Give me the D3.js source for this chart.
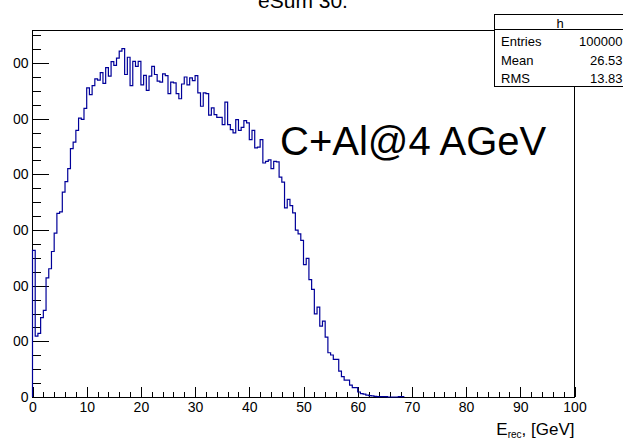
<!DOCTYPE html>
<html>
<head>
<meta charset="utf-8">
<script src="https://cdn.jsdelivr.net/npm/d3@7"></script>
<style>
  body { margin: 0; background: #fff; }
  svg { display: block; }
  text { font-family: "Liberation Sans", Arial, Helvetica, sans-serif; }
</style>
</head>
<body>
<svg id="chart" width="623" height="439"></svg>
<script>
// histogram "h" : 200 bins from 0 to 100 GeV, counts
const histName = "h";
const titleText = "eSum 30.";
const noteText = "C+Al@4 AGeV";
const xLimits = [0, 100];
const binWidth = 0.5;
const nBins = 200;
// bins 0..136, the rest are empty
const counts = [
  527, 219, 229, 285, 311, 428, 461, 523, 589, 660,
  665, 736, 774, 821, 893, 916, 958, 1002, 998, 1037,
  1111, 1087, 1119, 1143, 1139, 1166, 1127, 1184, 1153, 1205,
  1192, 1218, 1243, 1252, 1159, 1221, 1119, 1206, 1188, 1206,
  1122, 1156, 1102, 1153, 1188, 1159, 1135, 1132, 1161, 1155,
  1090, 1132, 1129, 1090, 1072, 1125, 1150, 1122, 1147, 1137,
  1155, 1093, 1045, 1093, 1090, 1013, 1039, 1015, 1005, 1005,
  979, 1060, 979, 961, 949, 997, 958, 969, 993, 985,
  925, 958, 895, 898, 925, 841, 847, 852, 821, 847,
  845, 790, 772, 680, 710, 688, 662, 600, 586, 563,
  476, 498, 422, 387, 299, 323, 255, 273, 215, 159,
  151, 135, 135, 93, 73, 61, 61, 43, 34, 34,
  18, 12, 10, 7, 5, 4, 2, 1, 1, 1,
  1, 0, 0, 0, 0, 1, 1
];
const yMaxShown = 1319;
const xTicks = [0, 10, 20, 30, 40, 50, 60, 70, 80, 90, 100];
const yTicks = [0, 200, 400, 600, 800, 1000, 1200];
const statLabels = ["Entries", "Mean", "RMS"];
const statValues = ["100000", "26.53", "13.83"];

const svg = d3.select("#chart");
const frame = { left: 32.5, right: 574.5, top: 30, bottom: 397 };

const x = d3.scaleLinear().domain(xLimits).range([frame.left, frame.right]);
const y = d3.scaleLinear().domain([0, yMaxShown]).range([frame.bottom, frame.top]);

// the pad starts a little right of the picture edge: labels get cut there
svg.append("clipPath").attr("id", "padClip")
  .append("rect").attr("x", 13.2).attr("y", 0).attr("width", 620).attr("height", 439);

// frame
svg.append("rect")
  .attr("x", frame.left).attr("y", frame.top)
  .attr("width", frame.right - frame.left).attr("height", frame.bottom - frame.top)
  .attr("fill", "none").attr("stroke", "#000").attr("stroke-width", 1)
  .attr("shape-rendering", "crispEdges");

function styleAxis(g) {
  g.select(".domain").remove();
  g.selectAll(".tick line").attr("stroke", "#000").attr("shape-rendering", "crispEdges");
  g.selectAll("text")
    .attr("fill", "#000")
    .style("font-size", "14px")
    .style("font-family", '"Liberation Sans", Arial, Helvetica, sans-serif');
}

// x axis, major + minor ticks pointing up
svg.append("g").attr("transform", "translate(0," + frame.bottom + ")")
  .call(d3.axisBottom(x).tickValues(xTicks).tickSize(-10).tickPadding(5).tickFormat(d3.format("d")))
  .call(styleAxis);
svg.append("g").attr("transform", "translate(0," + frame.bottom + ")")
  .call(d3.axisBottom(x).tickValues(x.ticks(50)).tickSize(-5).tickFormat(""))
  .call(styleAxis);

// y axis, major + minor ticks pointing right
svg.append("g").attr("clip-path", "url(#padClip)")
  .append("g").attr("transform", "translate(" + frame.left + ",0)")
  .call(d3.axisLeft(y).tickValues(yTicks).tickSize(-16.5).tickPadding(4).tickFormat(d3.format("d")))
  .call(styleAxis);
svg.append("g").attr("transform", "translate(" + frame.left + ",0)")
  .call(d3.axisLeft(y).tickValues(y.ticks(26).filter(v => v <= yMaxShown)).tickSize(-8).tickFormat(""))
  .call(styleAxis);

// histogram outline
const pts = [[xLimits[0], 0]];
counts.forEach((c, i) => {
  pts.push([xLimits[0] + i * binWidth, c]);
  pts.push([xLimits[0] + (i + 1) * binWidth, c]);
});
pts.push([xLimits[0] + counts.length * binWidth, 0]);

svg.append("path")
  .datum(pts)
  .attr("fill", "none")
  .attr("stroke", "#000099")
  .attr("stroke-width", 1.2)
  .attr("d", d3.line().x(d => x(d[0])).y(d => y(d[1])));

// title
svg.append("text")
  .attr("x", 303).attr("y", 8)
  .attr("text-anchor", "middle")
  .style("font-size", "21px")
  .text(titleText);

// annotation
svg.append("text")
  .attr("x", 280).attr("y", 154.5)
  .style("font-size", "40px")
  .text(noteText);

// x axis title
const xt = svg.append("text")
  .attr("x", frame.right).attr("y", 435)
  .attr("text-anchor", "end")
  .style("font-size", "17px");
xt.append("tspan").text("E");
xt.append("tspan").attr("dy", 3).style("font-size", "10px").text("rec");
xt.append("tspan").attr("dy", -3).text(", [GeV]");

// stats box
const box = { x: 494, y: 14, w: 132, h: 72 };
svg.append("rect")
  .attr("x", box.x).attr("y", box.y).attr("width", box.w).attr("height", box.h)
  .attr("fill", "#fff").attr("stroke", "#000").attr("stroke-width", 1)
  .attr("shape-rendering", "crispEdges");
svg.append("line")
  .attr("x1", box.x).attr("x2", box.x + box.w)
  .attr("y1", 29.5).attr("y2", 29.5)
  .attr("stroke", "#000").attr("shape-rendering", "crispEdges");
svg.append("text")
  .attr("x", box.x + box.w / 2).attr("y", 27.5)
  .attr("text-anchor", "middle")
  .style("font-size", "13px")
  .text(histName);
statLabels.forEach((lab, i) => {
  const by = 46 + i * 18.7;
  svg.append("text").attr("x", 501).attr("y", by).style("font-size", "13px").text(lab);
  svg.append("text").attr("x", 622.5).attr("y", by).attr("text-anchor", "end")
    .style("font-size", "13px").text(statValues[i]);
});
</script>
</body>
</html>
